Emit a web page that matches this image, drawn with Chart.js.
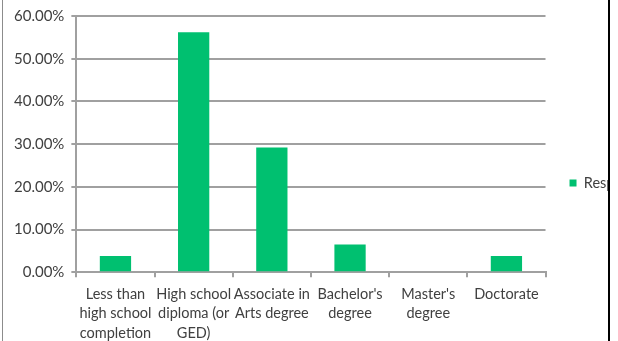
<!DOCTYPE html>
<html>
<head>
<meta charset="utf-8">
<script src="https://cdn.jsdelivr.net/npm/chart.js@4.4.0/dist/chart.umd.min.js"></script>
<style>
  body { margin: 0; background: #fff; }
  #frame { position: absolute; left: 0; top: 0; width: 608px; height: 341px; overflow: hidden; border-right: 2px solid #000; }
  #edge { position: absolute; left: 2px; top: 0; width: 1px; height: 341px; background: #8c8c8c; }
  canvas { display: block; }
</style>
</head>
<body>
<div id="frame"><canvas id="chart" width="700" height="341"></canvas></div>
<div id="edge"></div>
<script>
// education level of respondents, share in percent
const categories = [
  ['Less than', 'high school', 'completion'],
  ['High school', 'diploma (or', 'GED)'],
  ['Associate in', 'Arts degree'],
  ["Bachelor's", 'degree'],
  ["Master's", 'degree'],
  ['Doctorate']
];
const respondents = [3.8, 56.2, 29.2, 6.5, 0, 3.8];
const yTicks = [0, 10, 20, 30, 40, 50, 60];

const labelFont = { family: 'Lato', size: 14.5, lineHeight: 1.35 };
const tickFont = { family: 'Lato', size: 15 };
const textColor = '#404040';
const lineColor = '#a0a0a0';

new Chart(document.getElementById('chart'), {
  type: 'bar',
  data: {
    labels: categories,
    datasets: [{
      label: 'Respondents',
      data: respondents,
      backgroundColor: '#00c070',
      barPercentage: 0.4,
      categoryPercentage: 1
    }]
  },
  options: {
    responsive: false,
    animation: false,
    layout: { padding: { left: 7, right: 24, top: 16, bottom: -9 } },
    plugins: {
      tooltip: { enabled: false },
      legend: {
        position: 'right',
        labels: { boxWidth: 7, boxHeight: 7, padding: 24, color: textColor, font: labelFont }
      }
    },
    scales: {
      x: {
        grid: { drawOnChartArea: false, color: lineColor, lineWidth: 2, tickLength: 5 },
        border: { color: lineColor, width: 2 },
        ticks: { color: textColor, font: labelFont, maxRotation: 0, autoSkip: false, padding: 7 }
      },
      y: {
        min: yTicks[0],
        max: yTicks[yTicks.length - 1],
        afterBuildTicks: axis => { axis.ticks = yTicks.map(v => ({ value: v })); },
        grid: { color: lineColor, lineWidth: 2, tickLength: 5 },
        border: { color: lineColor, width: 2 },
        ticks: { color: textColor, font: tickFont, padding: 7, callback: v => v.toFixed(2) + '%' }
      }
    }
  }
});
</script>
</body>
</html>
